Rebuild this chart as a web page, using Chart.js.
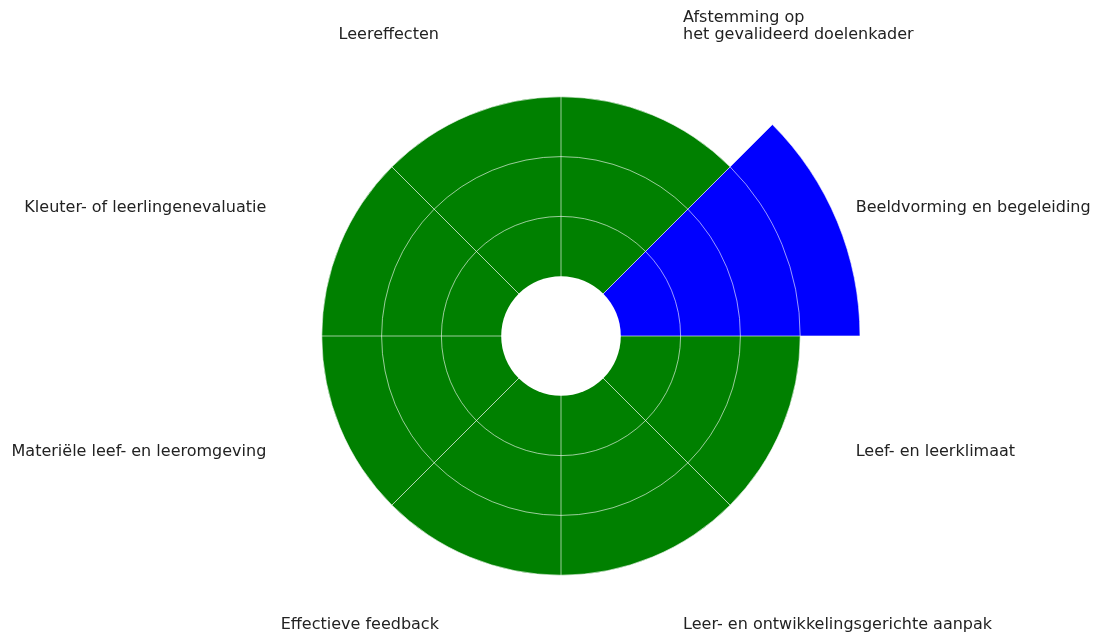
<!DOCTYPE html>
<html>
<head>
<meta charset="utf-8">
<script src="https://cdn.jsdelivr.net/npm/chart.js@4/dist/chart.umd.min.js"></script>
<style>
  html, body { margin: 0; padding: 0; background: #fff; }
  #wrap { width: 1101px; height: 635px; position: relative; }
</style>
</head>
<body>
<div id="wrap"><canvas id="chart"></canvas></div>
<script>
// sectors, clockwise from the top
const labels = [
  ['Afstemming op', 'het gevalideerd doelenkader'],
  'Beeldvorming en begeleiding',
  'Leef- en leerklimaat',
  'Leer- en ontwikkelingsgerichte aanpak',
  'Effectieve feedback',
  'Materiële leef- en leeromgeving',
  'Kleuter- of leerlingenevaluatie',
  'Leereffecten'
];
const scores = [3, 4, 3, 3, 3, 3, 3, 3];
const barBottom = 0;   // bars start here, leaving the white hole
const scaleMin = -1;
const scaleMax = 4;
const highlighted = 'Beeldvorming en begeleiding';

// white hole in the middle (bars start at barBottom)
const holePlugin = {
  id: 'hole',
  afterDatasetsDraw(chart) {
    const r = chart.scales.r;
    const ctx = chart.ctx;
    ctx.save();
    ctx.fillStyle = '#fff';
    ctx.beginPath();
    ctx.arc(r.xCenter, r.yCenter, r.getDistanceFromCenterForValue(barBottom), 0, Math.PI * 2);
    ctx.fill();
    ctx.restore();
  }
};

// sector labels, matplotlib style
const labelPlugin = {
  id: 'sectorLabels',
  afterDraw(chart) {
    const r = chart.scales.r;
    const ctx = chart.ctx;
    const dist = r.drawingArea + 20;
    const lineH = 17;
    ctx.save();
    ctx.font = '16px "DejaVu Sans"';
    ctx.fillStyle = '#222';
    ctx.textBaseline = 'middle';
    labels.forEach((lab, i) => {
      const p = r.getPointPosition(i + 0.5, dist);
      const dx = p.x - r.xCenter;
      ctx.textAlign = dx > 1 ? 'left' : (dx < -1 ? 'right' : 'center');
      const lines = Array.isArray(lab) ? lab : [lab];
      lines.forEach((t, k) => {
        ctx.fillText(t, p.x, p.y - 6 - (lines.length - 1 - k) * lineH);
      });
    });
    ctx.restore();
  }
};

const ctx = document.getElementById('chart');
new Chart(ctx, {
  type: 'polarArea',
  data: {
    labels: labels,
    datasets: [{
      data: scores,
      backgroundColor: (c) => labels[c.dataIndex] === highlighted ? '#0000ff' : '#008000',
      borderWidth: 0
    }]
  },
  options: {
    responsive: true,
    maintainAspectRatio: false,
    animation: false,
    layout: { padding: { top: 37, left: 22, right: 0, bottom: -2 } },
    plugins: {
      legend: { display: false },
      tooltip: { enabled: false }
    },
    scales: {
      r: {
        min: scaleMin,
        max: scaleMax,
        startAngle: 0,
        z: 1,
        ticks: { display: false, stepSize: 1 },
        pointLabels: { display: false },
        grid: {
          z: 1,
          circular: true,
          lineWidth: 1,
          color: (c) => c.tick && c.tick.value > barBottom ? 'rgba(255,255,255,0.6)' : 'rgba(0,0,0,0)'
        },
        angleLines: {
          display: true,
          lineWidth: 1,
          color: 'rgba(255,255,255,0.6)'
        }
      }
    }
  },
  plugins: [holePlugin, labelPlugin]
});
</script>
</body>
</html>
